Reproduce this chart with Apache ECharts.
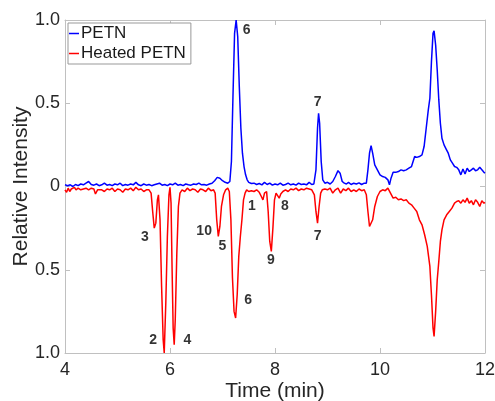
<!DOCTYPE html>
<html>
<head>
<meta charset="utf-8">
<script src="https://cdn.jsdelivr.net/npm/echarts@6/dist/echarts.min.js"></script>
<style>
  html, body { margin: 0; padding: 0; background: #fff; }
  #chart { width: 495px; height: 401px; }
</style>
</head>
<body>
<div id="chart"></div>
<script>
  // PETN (plotted upward)
  var petnTime = [4.00,4.05,4.10,4.15,4.20,4.25,4.30,4.35,4.40,4.45,4.50,4.55,4.60,4.65,4.70,4.75,4.80,4.85,4.90,4.95,
    5.00,5.05,5.10,5.15,5.20,5.25,5.30,5.35,5.40,5.45,5.50,5.55,5.60,5.65,5.70,5.75,5.80,5.85,5.90,5.95,
    6.00,6.05,6.10,6.15,6.20,6.25,6.30,6.35,6.40,6.45,6.50,6.55,6.60,6.65,6.70,6.75,6.80,6.85,6.90,6.95,
    7.00,7.05,7.10,7.14,7.17,7.20,7.23,7.26,7.29,7.32,7.35,7.38,7.41,7.44,7.47,7.50,7.55,7.60,7.65,7.70,
    7.75,7.80,7.85,7.90,7.95,8.00,8.05,8.10,8.15,8.20,8.25,8.30,8.35,8.40,8.45,8.50,8.55,8.60,8.65,8.70,
    8.74,8.78,8.81,8.83,8.85,8.88,8.91,8.95,9.00,9.05,9.10,9.15,9.20,9.24,9.28,9.32,9.36,9.40,9.45,9.50,
    9.55,9.60,9.65,9.70,9.74,9.77,9.80,9.83,9.86,9.90,9.95,10.00,10.05,10.10,10.15,10.18,10.21,10.25,10.30,10.35,
    10.40,10.45,10.50,10.55,10.60,10.63,10.66,10.70,10.75,10.80,10.84,10.88,10.92,10.95,10.98,11.01,11.03,11.06,11.09,11.12,
    11.15,11.18,11.22,11.26,11.30,11.34,11.38,11.42,11.46,11.50,11.54,11.58,11.62,11.66,11.70,11.74,11.78,11.82,11.86,11.90,
    11.94,11.98,12.00];
  var petnValue = [0.010,0.005,0.010,0.000,0.012,0.005,0.015,0.010,0.020,0.030,0.012,0.008,0.015,0.005,0.010,0.020,0.008,0.012,0.005,0.015,
    0.010,0.020,0.005,0.012,0.008,0.015,0.010,0.025,0.010,0.005,0.015,0.008,0.012,0.005,0.010,0.015,0.020,0.008,0.012,0.005,
    0.015,0.010,0.020,0.008,0.012,0.005,0.015,0.010,0.008,0.015,0.012,0.020,0.010,0.012,0.008,0.015,0.020,0.035,0.055,0.050,
    0.035,0.025,0.020,0.030,0.150,0.550,0.920,1.000,0.900,0.600,0.350,0.200,0.120,0.070,0.040,0.025,0.018,0.020,0.012,0.018,
    0.010,0.025,0.012,0.020,0.008,0.015,0.010,0.020,0.008,0.012,0.020,0.010,0.015,0.008,0.020,0.012,0.015,0.010,0.025,0.012,
    0.015,0.100,0.350,0.440,0.380,0.150,0.040,0.020,0.025,0.015,0.030,0.060,0.095,0.080,0.030,0.020,0.015,0.025,0.012,0.020,
    0.015,0.022,0.012,0.020,0.020,0.100,0.200,0.245,0.200,0.130,0.100,0.070,0.060,0.055,0.040,0.010,0.050,0.085,0.085,0.090,
    0.100,0.095,0.100,0.110,0.120,0.150,0.180,0.175,0.180,0.190,0.240,0.350,0.460,0.530,0.750,0.920,0.935,0.850,0.700,0.520,
    0.380,0.290,0.250,0.225,0.200,0.160,0.140,0.120,0.115,0.100,0.070,0.105,0.075,0.110,0.090,0.100,0.110,0.095,0.100,0.115,
    0.100,0.085,0.080];

  // Heated PETN (mirrored downward)
  var heatedTime = [4.00,4.03,4.06,4.09,4.12,4.15,4.18,4.21,4.25,4.30,4.35,4.40,4.45,4.50,4.55,4.58,4.62,4.65,4.70,4.75,
    4.80,4.85,4.90,4.95,5.00,5.05,5.10,5.15,5.20,5.25,5.30,5.35,5.40,5.45,5.50,5.55,5.60,5.64,5.67,5.70,
    5.73,5.76,5.78,5.81,5.84,5.87,5.89,5.92,5.95,5.98,6.00,6.02,6.04,6.06,6.08,6.10,6.13,6.16,6.19,6.23,
    6.28,6.33,6.38,6.43,6.48,6.53,6.58,6.63,6.68,6.73,6.78,6.83,6.86,6.89,6.92,6.95,6.98,7.02,7.06,7.10,
    7.13,7.16,7.19,7.22,7.25,7.28,7.31,7.34,7.37,7.40,7.43,7.46,7.50,7.55,7.60,7.65,7.70,7.74,7.77,7.80,
    7.84,7.87,7.90,7.93,7.96,7.99,8.02,8.05,8.08,8.11,8.15,8.20,8.25,8.30,8.35,8.40,8.45,8.50,8.55,8.60,
    8.65,8.70,8.75,8.78,8.81,8.84,8.87,8.90,8.95,9.00,9.05,9.10,9.15,9.20,9.25,9.30,9.35,9.40,9.45,9.50,
    9.55,9.60,9.65,9.70,9.74,9.77,9.80,9.83,9.86,9.90,9.95,10.00,10.05,10.10,10.15,10.20,10.25,10.30,10.35,10.40,
    10.45,10.50,10.55,10.60,10.65,10.70,10.75,10.80,10.85,10.90,10.95,10.98,11.01,11.03,11.06,11.09,11.12,11.15,11.18,11.22,
    11.27,11.32,11.37,11.42,11.46,11.50,11.54,11.58,11.62,11.66,11.70,11.74,11.78,11.82,11.86,11.90,11.94,11.98,12.00];
  var heatedValue = [-0.020,-0.035,-0.010,-0.030,-0.015,-0.020,-0.005,-0.020,-0.010,-0.020,-0.015,-0.010,-0.020,-0.010,-0.015,-0.045,-0.020,-0.010,-0.020,-0.030,
    -0.015,-0.020,-0.010,-0.030,-0.015,-0.020,-0.035,-0.015,-0.020,-0.010,-0.025,-0.005,-0.020,-0.015,-0.030,-0.020,-0.020,-0.040,-0.150,-0.250,
    -0.220,-0.080,-0.050,-0.200,-0.600,-0.920,-1.000,-0.700,-0.300,-0.050,-0.005,-0.100,-0.500,-0.850,-0.950,-0.800,-0.400,-0.120,-0.040,-0.020,
    -0.030,-0.010,-0.025,-0.015,-0.020,-0.035,-0.015,-0.020,-0.030,-0.010,-0.025,-0.020,-0.040,-0.200,-0.300,-0.240,-0.120,-0.050,-0.020,-0.010,
    -0.030,-0.200,-0.550,-0.750,-0.790,-0.650,-0.420,-0.300,-0.200,-0.080,-0.040,-0.020,-0.030,-0.025,-0.030,-0.020,-0.035,-0.060,-0.080,-0.040,
    -0.030,-0.150,-0.330,-0.390,-0.250,-0.080,-0.040,-0.035,-0.070,-0.045,-0.030,-0.020,-0.030,-0.015,-0.020,-0.010,-0.025,-0.015,-0.020,-0.010,
    -0.015,-0.020,-0.050,-0.150,-0.220,-0.120,-0.040,-0.020,-0.015,-0.020,-0.010,-0.040,-0.020,-0.010,-0.040,-0.015,-0.025,-0.010,-0.030,-0.020,
    -0.030,-0.015,-0.025,-0.020,-0.050,-0.150,-0.240,-0.250,-0.200,-0.120,-0.060,-0.030,-0.020,-0.025,-0.010,-0.040,-0.070,-0.065,-0.080,-0.075,
    -0.085,-0.080,-0.100,-0.110,-0.130,-0.150,-0.200,-0.230,-0.290,-0.360,-0.480,-0.650,-0.850,-0.900,-0.750,-0.560,-0.450,-0.330,-0.260,-0.200,
    -0.170,-0.150,-0.130,-0.100,-0.090,-0.085,-0.100,-0.080,-0.095,-0.070,-0.100,-0.085,-0.110,-0.080,-0.095,-0.120,-0.085,-0.100,-0.095];

  // peak number labels: [time, value, text]
  var peakLabels = [
    [7.46, 0.94, '6'], [8.81, 0.505, '7'],
    [5.52, -0.305, '3'], [5.68, -0.92, '2'], [6.33, -0.92, '4'],
    [6.65, -0.27, '10'], [7.00, -0.36, '5'], [7.49, -0.68, '6'],
    [7.56, -0.12, '1'], [7.92, -0.44, '9'], [8.19, -0.12, '8'], [8.81, -0.30, '7']
  ];

  var xTicks = [4, 12, 2];
  var yTicks = [-1, 1, 0.5];

  function pairs(t, v) {
    return t.map(function (x, i) { return [x, v[i]]; });
  }

  var font = 'Liberation Sans, Arial, sans-serif';
  var frame = '#c0c0c0';
  var ink = '#262626';

  var chart = echarts.init(document.getElementById('chart'));
  var option = {
    animation: false,
    textStyle: { fontFamily: font },
    grid: { left: 65, right: 10, top: 20, bottom: 48, containLabel: false, outerBoundsMode: 'none' },
    legend: {
      orient: 'vertical',
      left: 68,
      top: 23,
      data: ['PETN', 'Heated PETN'],
      icon: 'rect',
      itemWidth: 10,
      itemHeight: 1.5,
      itemGap: 3,
      padding: [2, 5, 2, 1],
      borderColor: '#999',
      borderWidth: 1,
      backgroundColor: '#fff',
      textStyle: { fontSize: 17, color: '#1a1a1a', fontFamily: font, padding: [0, 0, 0, -3] }
    },
    xAxis: [{
      type: 'value', min: xTicks[0], max: xTicks[1], interval: xTicks[2],
      name: 'Time (min)', nameLocation: 'middle', nameGap: 28, nameMoveOverlap: false,
      nameTextStyle: { fontSize: 21, color: ink },
      axisLine: { onZero: false, lineStyle: { color: frame } },
      axisTick: { inside: true, length: 5, lineStyle: { color: frame } },
      axisLabel: { fontSize: 18, color: ink, margin: 8 },
      splitLine: { show: false }
    }, {
      type: 'value', position: 'top', min: xTicks[0], max: xTicks[1], interval: xTicks[2],
      axisLine: { onZero: false, lineStyle: { color: frame } },
      axisTick: { inside: true, length: 5, lineStyle: { color: frame } },
      axisLabel: { show: false },
      splitLine: { show: false }
    }],
    yAxis: [{
      type: 'value', min: yTicks[0], max: yTicks[1], interval: yTicks[2],
      name: 'Relative Intensity', nameLocation: 'middle', nameGap: 33, nameMoveOverlap: false,
      nameTextStyle: { fontSize: 21, color: ink },
      axisLine: { show: true, onZero: false, lineStyle: { color: frame } },
      axisTick: { show: true, inside: true, length: 5, lineStyle: { color: frame } },
      axisLabel: {
        fontSize: 18, color: ink, margin: 5,
        formatter: function (v) { return v === 0 ? '0' : Math.abs(v).toFixed(1); }
      },
      splitLine: { show: false }
    }, {
      type: 'value', position: 'right', min: yTicks[0], max: yTicks[1], interval: yTicks[2],
      axisLine: { show: true, onZero: false, lineStyle: { color: frame } },
      axisTick: { show: true, inside: true, length: 5, lineStyle: { color: frame } },
      axisLabel: { show: false },
      splitLine: { show: false }
    }],
    series: [{
      name: 'PETN', type: 'line', showSymbol: false,
      data: pairs(petnTime, petnValue),
      lineStyle: { color: '#0000ff', width: 1.5 },
      itemStyle: { color: '#0000ff' },
      z: 3
    }, {
      name: 'Heated PETN', type: 'line', showSymbol: false,
      data: pairs(heatedTime, heatedValue),
      lineStyle: { color: '#ff0000', width: 1.5 },
      itemStyle: { color: '#ff0000' },
      z: 2
    }, {
      type: 'scatter', symbolSize: 0, silent: true,
      data: peakLabels,
      label: {
        show: true, position: 'inside',
        formatter: function (p) { return p.data[2]; },
        fontSize: 14, fontWeight: 'bold', color: '#000'
      },
      z: 5
    }]
  };
  chart.setOption(option);
</script>
</body>
</html>
